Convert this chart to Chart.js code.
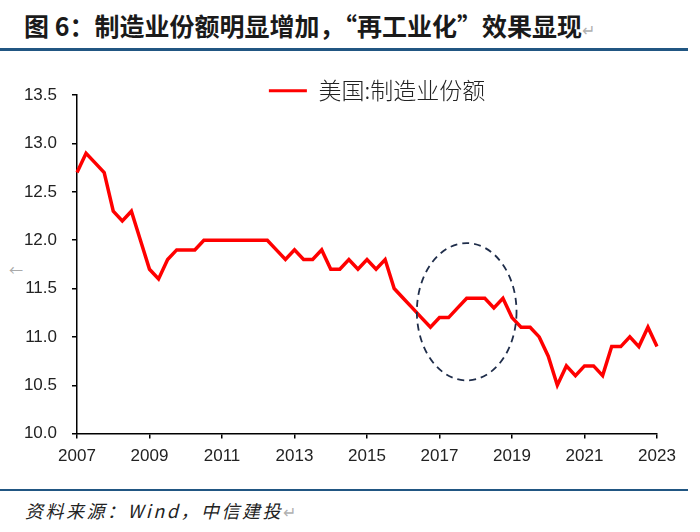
<html>
    <head>
        <meta charset="utf-8">
        <title>制造业份额</title>
        <script src="https://cdn.jsdelivr.net/npm/chart.js@4.4.1/dist/chart.umd.min.js"></script>
        <style>
            body { margin: 0; width: 700px; height: 532px; background: #fff; position: relative; overflow: hidden; font-family: "Noto Sans CJK SC", sans-serif; }
            #title { position: absolute; left: 24px; top: 8px; font-size: 25px; font-weight: bold; color: #1a1a1a; line-height: 34px; white-space: nowrap; }
            .mark { color: #b0b0b0; font-weight: normal; font-size: 16px; font-style: normal; }
            #topLine { position: absolute; left: 0; top: 48px; width: 688px; height: 3px; background: #215682; }
            #bottomLine { position: absolute; left: 0; top: 489px; width: 688px; height: 2px; background: #215682; }
            #source { position: absolute; left: 25px; top: 497px; font-size: 18px; letter-spacing: 2.5px; font-style: italic; color: #222; line-height: 26px; white-space: nowrap; }
            #leftMark { position: absolute; left: 9px; top: 259px; font-size: 14px; color: #aaa; }
            #chartBox { position: absolute; left: 0; top: 70px; width: 700px; height: 405px; }
        </style>
    </head>
    <body>
        <div id="title">图 6：制造业份额明显增加，“再工业化”效果显现<span class="mark">↵</span></div>
        <div id="topLine"></div>
        <div id="leftMark">←</div>
        <div id="chartBox"><canvas id="myChart"></canvas></div>
        <div id="bottomLine"></div>
        <div id="source">资料来源：Wind，中信建投<span class="mark">↵</span></div>
        <script>
            // quarterly data, 2007Q1 .. 2023Q1
            var years = [2007, 2008, 2009, 2010, 2011, 2012, 2013, 2014, 2015, 2016, 2017, 2018, 2019, 2020, 2021, 2022, 2023];
            var quarters = [];
            for (var yi = 0; yi < years.length; yi++) {
                for (var q = 1; q <= 4; q++) {
                    if (years[yi] == 2023 && q > 1) break;
                    quarters.push(years[yi] + 'Q' + q);
                }
            }

            var seriesName = '美国:制造业份额';
            var share = [
                12.7, 12.9, 12.8, 12.7, 12.3, 12.2, 12.3, 12.0,
                11.7, 11.6, 11.8, 11.9, 11.9, 11.9, 12.0, 12.0,
                12.0, 12.0, 12.0, 12.0, 12.0, 12.0, 11.9, 11.8,
                11.9, 11.8, 11.8, 11.9, 11.7, 11.7, 11.8, 11.7,
                11.8, 11.7, 11.8, 11.5, 11.4, 11.3, 11.2, 11.1,
                11.2, 11.2, 11.3, 11.4, 11.4, 11.4, 11.3, 11.4,
                11.2, 11.1, 11.1, 11.0, 10.8, 10.5, 10.7, 10.6,
                10.7, 10.7, 10.6, 10.9, 10.9, 11.0, 10.9, 11.1,
                10.9
            ];

            var yTicks = [10.0, 10.5, 11.0, 11.5, 12.0, 12.5, 13.0, 13.5];

            // dashed ellipse round the 2017-2019 bump (category index / value units)
            var circleCenter = [43.0, 11.26];
            var circleRadius = [5.5, 0.71];

            var ellipsePlugin = {
                id: 'ellipse',
                afterLayout: function(chart) {
                    // let the legend sit just over the plot top, like the original
                    var lg = chart.legend;
                    lg.top = chart.chartArea.top - 16;
                    lg.bottom = lg.top + 28;
                    lg.left += 10;
                    lg.right += 10;
                },
                afterDatasetsDraw: function(chart) {
                    var xs = chart.scales.x, ys = chart.scales.y, c = chart.ctx;
                    var cx = xs.getPixelForValue(circleCenter[0]);
                    var cy = ys.getPixelForValue(circleCenter[1]);
                    var rx = Math.abs(xs.getPixelForValue(circleCenter[0] + circleRadius[0]) - cx);
                    var ry = Math.abs(ys.getPixelForValue(circleCenter[1] + circleRadius[1]) - cy);
                    c.save();
                    c.strokeStyle = '#1f2d4a';
                    c.lineWidth = 1.8;
                    c.setLineDash([7, 5]);
                    c.beginPath();
                    c.ellipse(cx, cy, rx, ry, 0, 0, Math.PI * 2);
                    c.stroke();
                    c.restore();
                }
            };

            var axisFont = { family: '"Liberation Sans", Arial, sans-serif', size: 17 };

            var ctx = document.getElementById('myChart').getContext('2d');
            var chart = new Chart(ctx, {
                type: 'line',
                data: {
                    labels: quarters,
                    datasets: [{
                        label: seriesName,
                        data: share,
                        borderColor: '#ff0000',
                        backgroundColor: '#ff0000',
                        borderWidth: 3.5,
                        borderJoinStyle: 'miter',
                        pointRadius: 0,
                        tension: 0
                    }]
                },
                options: {
                    responsive: true,
                    maintainAspectRatio: false,
                    animation: false,
                    layout: { padding: { left: 0, right: 43, top: 0, bottom: 0 } },
                    plugins: {
                        tooltip: { enabled: false },
                        legend: {
                            position: 'top',
                            fullSize: false,
                            maxHeight: 14,
                            labels: {
                                boxWidth: 38,
                                boxHeight: 3,
                                padding: 0,
                                color: '#222',
                                font: { family: '"Noto Sans CJK SC", sans-serif', size: 23, weight: '300' },
                                generateLabels: function(chart) {
                                    var items = Chart.defaults.plugins.legend.labels.generateLabels(chart);
                                    items.forEach(function(it) { it.lineWidth = 0; });
                                    return items;
                                }
                            }
                        }
                    },
                    scales: {
                        x: {
                            type: 'category',
                            offset: false,
                            border: { display: true, color: '#000', width: 1.5 },
                            grid: { drawOnChartArea: false, drawTicks: true, tickLength: 5, color: '#000', lineWidth: 1.5 },
                            ticks: {
                                autoSkip: false,
                                maxRotation: 0,
                                padding: 8,
                                color: '#222',
                                font: axisFont,
                                callback: function(val, i) {
                                    var lab = quarters[i];
                                    return lab.slice(4) == 'Q1' && (i % 8 == 0) ? lab.slice(0, 4) : null;
                                }
                            }
                        },
                        y: {
                            min: yTicks[0],
                            max: yTicks[yTicks.length - 1],
                            afterFit: function(s) { s.width = 77; },
                            afterBuildTicks: function(s) { s.ticks = yTicks.map(function(v) { return { value: v }; }); },
                            border: { display: true, color: '#000', width: 1.5 },
                            grid: { drawOnChartArea: false, drawTicks: true, tickLength: 5, color: '#000', lineWidth: 1.5 },
                            ticks: {
                                padding: 15,
                                color: '#222',
                                font: axisFont,
                                callback: function(v) { return Number(v).toFixed(1); }
                            }
                        }
                    }
                },
                plugins: [ellipsePlugin]
            });
        </script>
    </body>
</html>
